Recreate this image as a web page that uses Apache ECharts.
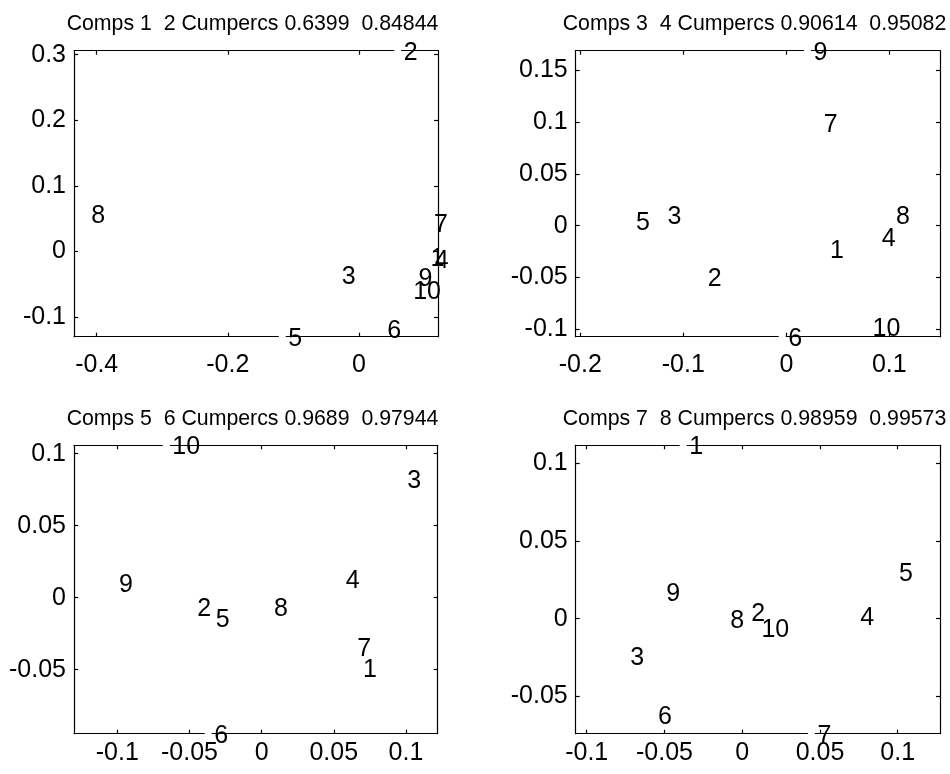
<!DOCTYPE html>
<html>
<head>
<meta charset="utf-8">
<script src="https://cdn.jsdelivr.net/npm/echarts@6/dist/echarts.min.js"></script>
<style>
html,body{margin:0;padding:0;background:#fff;}
#chart{width:950px;height:774px;}
</style>
</head>
<body>
<div id="chart"></div>
<script>
// ---- data ----
const pointLabels = ['1','2','3','4','5','6','7','8','9','10'];

const titles = [
  'Comps 1  2 Cumpercs 0.6399  0.84844',
  'Comps 3  4 Cumpercs 0.90614  0.95082',
  'Comps 5  6 Cumpercs 0.9689  0.97944',
  'Comps 7  8 Cumpercs 0.98959  0.99573'
];

const p1X = [0.1000, 0.059, -0.0355, 0.1065, -0.117, 0.0340, 0.1052, -0.4174, 0.0816, 0.0735];
const p1Y = [-0.0079, 0.3051, -0.0364, -0.0110, -0.1296, -0.1185, 0.0432, 0.0576, -0.0392, -0.0583];

const p2X = [0.0366, -0.0822, -0.1211, 0.0867, -0.1517, -0.004, 0.0304, 0.1007, 0.0205, 0.0779];
const p2Y = [-0.0224, -0.0498, 0.0098, -0.0113, 0.0042, -0.1072, 0.0992, 0.0098, 0.1686, -0.0982];

const p3X = [0.066, -0.0488, 0.0967, 0.0541, -0.0360, -0.037, 0.0621, 0.0044, -0.1030, -0.066];
const p3Y = [-0.0488, -0.0063, 0.0826, 0.0128, -0.0143, -0.0944, -0.0344, -0.0063, 0.0102, 0.1058];

const p4X = [-0.0380, 0.0019, -0.0759, 0.0721, 0.0970, -0.0581, 0.0445, -0.0116, -0.0528, 0.0085];
const p4Y = [0.1118, 0.0044, -0.0238, 0.0019, 0.0299, -0.0618, -0.0741, -0.0005, 0.0170, -0.0058];

const xRanges = [[-0.4346, 0.1205], [-0.2045, 0.1492], [-0.130, 0.122], [-0.1071, 0.1272]];
const yRanges = [[-0.1296, 0.306], [-0.1072, 0.1690], [-0.0944, 0.1058], [-0.0741, 0.1118]];

const xTicks = [[-0.4, -0.2, 0], [-0.2, -0.1, 0, 0.1], [-0.1, -0.05, 0, 0.05, 0.1], [-0.1, -0.05, 0, 0.05, 0.1]];
const yTicks = [[-0.1, 0, 0.1, 0.2, 0.3], [-0.1, -0.05, 0, 0.05, 0.1, 0.15], [-0.05, 0, 0.05, 0.1], [-0.05, 0, 0.05, 0.1]];

// ---- layout ----
const gridBoxes = [
  {left: 74, top: 50.7, width: 364, height: 286},
  {left: 575.7, top: 50.7, width: 364.3, height: 286},
  {left: 74, top: 445.3, width: 363.7, height: 288.4},
  {left: 575.7, top: 445.3, width: 364.3, height: 288.4}
];
const titlePos = [
  {x: 252.5, y: 13.5}, {x: 754.5, y: 13.5}, {x: 252.5, y: 408.5}, {x: 754.5, y: 408.5}
];
const xLabelMargin = [16, 16, 7, 7];

const FONT = '"Liberation Sans", Arial, Helvetica, sans-serif';
const allX = [p1X, p2X, p3X, p4X];
const allY = [p1Y, p2Y, p3Y, p4Y];

const lineStyle = {color: '#000', width: 1.2};
const fmt = v => String(Math.round(v * 10000) / 10000);

const grid = [], xAxis = [], yAxis = [], series = [], title = [];

for (let i = 0; i < 4; i++) {
  grid.push(Object.assign({containLabel: false, show: false}, gridBoxes[i]));
  title.push({
    text: titles[i], left: titlePos[i].x, top: titlePos[i].y, textAlign: 'center', padding: 0,
    textStyle: {fontSize: 21.3, fontWeight: 'normal', color: '#000', fontFamily: FONT}
  });
  const [xmin, xmax] = xRanges[i];
  const [ymin, ymax] = yRanges[i];
  ['bottom', 'top'].forEach(pos => {
    xAxis.push({
      gridIndex: i, type: 'value', position: pos, min: xmin, max: xmax,
      axisLine: {show: true, onZero: false, lineStyle},
      axisTick: {show: true, inside: true, length: 4, customValues: xTicks[i], lineStyle},
      axisLabel: {show: pos === 'bottom', customValues: xTicks[i], margin: xLabelMargin[i], fontSize: 25,
                  color: '#000', fontFamily: FONT, formatter: fmt},
      splitLine: {show: false}
    });
  });
  ['left', 'right'].forEach(pos => {
    yAxis.push({
      gridIndex: i, type: 'value', position: pos, min: ymin, max: ymax,
      axisLine: {show: true, onZero: false, lineStyle},
      axisTick: {show: true, inside: true, length: 4, customValues: yTicks[i], lineStyle},
      axisLabel: {show: pos === 'left', customValues: yTicks[i], margin: 8, fontSize: 25,
                  color: '#000', fontFamily: FONT, formatter: fmt},
      splitLine: {show: false}
    });
  });
  const data = pointLabels.map((lab, k) => [allX[i][k], allY[i][k], lab]);
  // white point markers (hide axis line where a point sits on the box)
  series.push({
    type: 'scatter', xAxisIndex: 2 * i, yAxisIndex: 2 * i, data: data,
    symbol: 'circle', symbolSize: 7, itemStyle: {color: '#fff', opacity: 1}, z: 3, clip: false, silent: true
  });
  // text labels
  series.push({
    type: 'scatter', xAxisIndex: 2 * i, yAxisIndex: 2 * i, data: data,
    symbolSize: 0.01, itemStyle: {color: '#000', opacity: 1}, z: 4, clip: false, silent: true,
    label: {show: true, position: 'right', distance: 6, offset: [0, 2], formatter: p => p.value[2],
            fontSize: 25, color: '#000', opacity: 1, textBorderWidth: 0, fontFamily: FONT}
  });
}

const chart = echarts.init(document.getElementById('chart'), null, {renderer: 'canvas'});
chart.setOption({
  animation: false, backgroundColor: '#fff',
  title, grid, xAxis, yAxis, series
});
</script>
</body>
</html>
